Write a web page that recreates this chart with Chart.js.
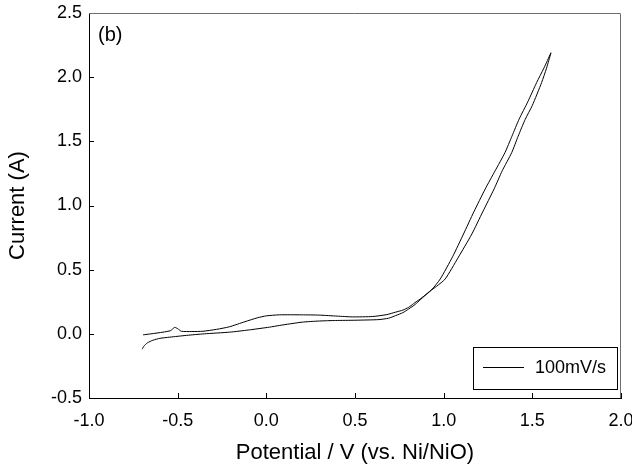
<!DOCTYPE html>
<html>
<head>
<meta charset="utf-8">
<script src="https://cdn.jsdelivr.net/npm/chart.js@4.4.1/dist/chart.umd.min.js"></script>
<style>
  html, body { margin: 0; padding: 0; background: #fff; }
  #wrap { width: 632px; height: 469px; position: relative; }
</style>
</head>
<body>
<div id="wrap"><canvas id="cv"></canvas></div>
<script>
// Forward sweep: lower branch, then the lower-current side of the rise
const forwardPotential = [-0.70, -0.69, -0.67, -0.64, -0.60, -0.545, -0.45, -0.35, -0.208, -0.10, 0.017, 0.073, 0.202, 0.30, 0.391, 0.50, 0.635, 0.69, 0.729, 0.77, 0.803, 0.84, 0.868, 0.92, 0.96, 1.009, 1.08, 1.159, 1.22, 1.284, 1.33, 1.384, 1.42, 1.46, 1.50, 1.552, 1.58, 1.605];
const forwardCurrent = [-0.12, -0.095, -0.07, -0.05, -0.035, -0.026, -0.012, 0.0, 0.013, 0.03, 0.052, 0.065, 0.091, 0.10, 0.104, 0.106, 0.111, 0.122, 0.142, 0.165, 0.194, 0.23, 0.265, 0.33, 0.37, 0.428, 0.59, 0.778, 0.95, 1.128, 1.27, 1.413, 1.54, 1.672, 1.78, 1.957, 2.07, 2.19];

// Reverse sweep: back down the rise, then the upper branch with the small bump
const reversePotential = [1.605, 1.565, 1.524, 1.475, 1.425, 1.385, 1.346, 1.29, 1.234, 1.17, 1.112, 1.05, 0.981, 0.93, 0.868, 0.83, 0.803, 0.77, 0.729, 0.68, 0.60, 0.485, 0.40, 0.298, 0.20, 0.073, 0.0, -0.05, -0.12, -0.208, -0.28, -0.358, -0.42, -0.479, -0.50, -0.517, -0.54, -0.583, -0.65, -0.695];
const reverseCurrent = [2.19, 2.07, 1.957, 1.81, 1.672, 1.54, 1.413, 1.27, 1.128, 0.95, 0.778, 0.60, 0.428, 0.34, 0.272, 0.235, 0.207, 0.185, 0.169, 0.15, 0.135, 0.132, 0.138, 0.146, 0.148, 0.148, 0.14, 0.125, 0.095, 0.055, 0.035, 0.02, 0.018, 0.02, 0.04, 0.05, 0.025, 0.013, 0.0, -0.008];

const xTicks = [-1.0, -0.5, 0.0, 0.5, 1.0, 1.5, 2.0];
const yTicks = [-0.5, 0.0, 0.5, 1.0, 1.5, 2.0, 2.5];
const seriesLabel = '100mV/s';
const panelLabel = '(b)';

const FONT = '"Liberation Sans", Arial, Helvetica, sans-serif';

function toPoints(xs, ys) {
  return xs.map((x, i) => ({ x, y: ys[i] }));
}

// inward ticks, gray top/right frame, panel tag and boxed legend
const decorations = {
  id: 'decorations',
  afterDraw(chart) {
    const { ctx, chartArea: a, scales } = chart;
    ctx.save();
    ctx.strokeStyle = '#000';
    ctx.lineWidth = 1;
    ctx.beginPath();
    xTicks.forEach((v) => {
      const px = Math.round(scales.x.getPixelForValue(v)) + 0.5;
      ctx.moveTo(px, a.bottom);
      ctx.lineTo(px, a.bottom - 5);
    });
    yTicks.forEach((v) => {
      const py = Math.round(scales.y.getPixelForValue(v)) + 0.5;
      ctx.moveTo(a.left, py);
      ctx.lineTo(a.left + 5, py);
    });
    ctx.stroke();

    ctx.strokeStyle = '#6e6e6e';
    ctx.beginPath();
    ctx.moveTo(a.left, a.top + 0.5);
    ctx.lineTo(a.right - 0.5, a.top + 0.5);
    ctx.lineTo(a.right - 0.5, a.bottom);
    ctx.stroke();

    ctx.fillStyle = '#000';
    ctx.font = '20px ' + FONT;
    ctx.textAlign = 'left';
    ctx.textBaseline = 'alphabetic';
    ctx.fillText(panelLabel, a.left + 9, a.top + 28);

    // legend box
    const bx = a.right - 148, by = a.bottom - 51, bw = 144, bh = 42;
    ctx.strokeStyle = '#000';
    ctx.strokeRect(bx + 0.5, by + 0.5, bw, bh);
    ctx.beginPath();
    ctx.moveTo(bx + 10, by + 20.5);
    ctx.lineTo(bx + 51, by + 20.5);
    ctx.stroke();
    ctx.font = '18px ' + FONT;
    ctx.textBaseline = 'middle';
    ctx.fillText(seriesLabel, bx + 62, by + 21);
    ctx.restore();
  }
};

const lineStyle = {
  showLine: true,
  borderColor: '#000',
  borderWidth: 1,
  pointRadius: 0,
  tension: 0.2,
  fill: false
};

function noEdgePadding(s) {
  s.paddingLeft = 0;
  s.paddingRight = 0;
  s.paddingTop = 0;
  s.paddingBottom = 0;
}

new Chart(document.getElementById('cv'), {
  type: 'scatter',
  data: {
    datasets: [
      Object.assign({ label: seriesLabel, data: toPoints(forwardPotential, forwardCurrent) }, lineStyle),
      Object.assign({ label: seriesLabel, data: toPoints(reversePotential, reverseCurrent) }, lineStyle)
    ]
  },
  options: {
    responsive: true,
    maintainAspectRatio: false,
    animation: false,
    layout: { padding: { top: 13, right: 11, left: 0, bottom: 0 } },
    plugins: {
      legend: { display: false },
      tooltip: { enabled: false }
    },
    scales: {
      x: {
        type: 'linear',
        min: -1.0,
        max: 2.0,
        afterBuildTicks: (s) => { s.ticks = xTicks.map((v) => ({ value: v })); },
        afterFit: (s) => { s.height = 71; noEdgePadding(s); },
        grid: { display: false, drawTicks: false },
        border: { display: true, color: '#000', width: 1 },
        ticks: {
          padding: 12,
          color: '#000',
          maxRotation: 0,
          font: { family: FONT, size: 18 },
          callback: (v) => Number(v).toFixed(1)
        },
        title: {
          display: true,
          text: 'Potential / V (vs. Ni/NiO)',
          color: '#000',
          font: { family: FONT, size: 22 },
          padding: { top: 0, bottom: 3 }
        }
      },
      y: {
        type: 'linear',
        min: -0.5,
        max: 2.5,
        afterBuildTicks: (s) => { s.ticks = yTicks.map((v) => ({ value: v })); },
        afterFit: (s) => { s.width = 89; noEdgePadding(s); },
        grid: { display: false, drawTicks: false },
        border: { display: true, color: '#000', width: 1 },
        ticks: {
          padding: 7,
          color: '#000',
          font: { family: FONT, size: 18 },
          callback: (v) => Number(v).toFixed(1)
        },
        title: {
          display: true,
          text: 'Current (A)',
          color: '#000',
          font: { family: FONT, size: 22 },
          padding: { top: 5, bottom: 0 }
        }
      }
    }
  },
  plugins: [decorations]
});
</script>
</body>
</html>
